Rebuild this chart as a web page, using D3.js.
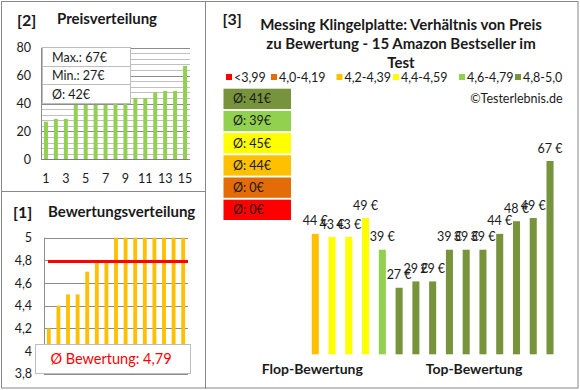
<!DOCTYPE html>
<html><head><meta charset="utf-8">
<script src="https://cdn.jsdelivr.net/npm/d3@7"></script>
<style>
html,body{margin:0;padding:0;background:#fff;}
svg{display:block;font-family:Lato,"Open Sans",sans-serif;}
</style></head>
<body>
<svg id="c" width="580" height="390"></svg>
<script>
// ---- data ----
const priceRanks = [1,2,3,4,5,6,7,8,9,10,11,12,13,14,15];
const pricesSorted = [27,29,29,39,39,39,39,43,43,44,44,48,49,49,67];
const priceTicks = [0,20,40,60,80];
const priceXLabels = [1,3,5,7,9,11,13,15];
const priceStats = ["Max.: 67€","Min.: 27€","Ø: 42€"];

const ratingsSorted = [4.2,4.4,4.5,4.5,4.7,4.8,4.8,5,5,5,5,5,5,5,5];
const ratingTicks = [3.8,4.0,4.2,4.4,4.6,4.8,5.0];
const ratingMean = 4.79;

const productPrices = [44,43,43,49,39,27,29,29,39,39,39,44,48,49,67];
const productClass = [2,3,3,3,4,5,5,5,5,5,5,5,5,5,5];
const classLabels = ["<3,99","4,0-4,19","4,2-4,39","4,4-4,59","4,6-4,79","4,8-5,0"];
const classColors = ["#FF0000","#E36C09","#FFC000","#FFFF00","#92D050","#77933C"];
const classAvg = [0,0,44,45,39,41];
const groupLabels = ["Flop-Bewertung","Top-Bewertung"];

const svg = d3.select("#c");
const txt = "#1a1a1a";

// ---- frames ----
svg.append("rect").attr("x",1.5).attr("y",1.5).attr("width",204).attr("height",190).attr("fill","none").attr("stroke","#888");
svg.append("rect").attr("x",1.5).attr("y",191.5).attr("width",204).attr("height",196.5).attr("fill","none").attr("stroke","#888");
svg.append("rect").attr("x",205.5).attr("y",1.5).attr("width",372.5).attr("height",386.5).attr("fill","none").attr("stroke","#888");

// ---- panel [2] price distribution ----
{
  const g = svg.append("g");
  g.append("text").attr("x",17).attr("y",26).attr("font-size",16).attr("font-weight","bold").attr("fill",txt).text("[2]");
  g.append("text").attr("x",57).attr("y",24).attr("font-size",15).attr("font-weight","bold").attr("fill",txt).text("Preisverteilung");
  const x = d3.scaleBand().domain(priceRanks).range([41,190]).paddingInner(0.6).paddingOuter(0.3);
  const y = d3.scaleLinear().domain([0,80]).range([159.3,47.7]);
  const minor = d3.range(0,81,4);
  g.selectAll(".mg").data(minor).join("line").attr("x1",41).attr("x2",190)
    .attr("y1",d=>Math.round(y(d))+0.5).attr("y2",d=>Math.round(y(d))+0.5)
    .attr("stroke",d=>d%20===0?"#8c8c8c":"#c0c0c0").attr("stroke-width",1);
  g.append("line").attr("x1",41.5).attr("x2",41.5).attr("y1",y(80)).attr("y2",y(0)).attr("stroke","#8c8c8c");
  g.selectAll(".b").data(pricesSorted).join("rect")
    .attr("x",(d,i)=>x(priceRanks[i])).attr("width",x.bandwidth())
    .attr("y",d=>y(d)).attr("height",d=>y(0)-y(d)).attr("fill","#92D050");
  g.append("line").attr("x1",41).attr("x2",190).attr("y1",Math.round(y(0))+0.5).attr("y2",Math.round(y(0))+0.5).attr("stroke","#7f7f7f");
  const ya = g.append("g").attr("transform","translate(41,0)").call(d3.axisLeft(y).tickValues(priceTicks).tickSize(0).tickPadding(10));
  ya.select(".domain").remove();
  ya.selectAll("text").attr("font-size",12.5).attr("fill",txt).attr("font-family","Lato,sans-serif");
  const xa = g.append("g").attr("transform","translate(0,174)").call(d3.axisBottom(x).tickValues(priceXLabels).tickSize(0).tickPadding(0));
  xa.select(".domain").remove();
  xa.selectAll("text").attr("font-size",12.5).attr("fill",txt).attr("font-family","Lato,sans-serif");
  // stats box
  const bx=42.5, by=47.5, bw=88, rows=[47.5,66.5,84.5,103.5];
  g.append("rect").attr("x",bx).attr("y",by).attr("width",bw).attr("height",rows[3]-by).attr("fill","#fff").attr("stroke","#bdbdbd");
  g.selectAll(".sl").data(rows.slice(1,3)).join("line").attr("x1",bx).attr("x2",bx+bw).attr("y1",d=>d).attr("y2",d=>d).attr("stroke","#bdbdbd");
  g.selectAll(".st").data(priceStats).join("text").attr("x",52)
    .attr("y",(d,i)=>(rows[i]+rows[i+1])/2+4.5).attr("font-size",12.5).attr("fill",txt).text(d=>d);
}

// ---- panel [1] rating distribution ----
{
  const g = svg.append("g");
  g.append("text").attr("x",13).attr("y",218).attr("font-size",16).attr("font-weight","bold").attr("fill",txt).text("[1]");
  g.append("text").attr("x",48).attr("y",217).attr("font-size",15).attr("font-weight","bold").attr("fill",txt).text("Bewertungsverteilung");
  const x = d3.scaleBand().domain(priceRanks).range([44,188]).paddingInner(0.6).paddingOuter(0.3);
  const y = d3.scaleLinear().domain([3.8,5]).range([373.7,237.7]);
  g.selectAll(".gl").data(ratingTicks).join("line").attr("x1",44).attr("x2",188)
    .attr("y1",d=>Math.round(y(d))+0.5).attr("y2",d=>Math.round(y(d))+0.5).attr("stroke","#8c8c8c");
  g.append("line").attr("x1",44.5).attr("x2",44.5).attr("y1",y(5)).attr("y2",y(3.8)).attr("stroke","#8c8c8c");
  g.selectAll(".b").data(ratingsSorted).join("rect")
    .attr("x",(d,i)=>x(priceRanks[i])).attr("width",x.bandwidth())
    .attr("y",d=>y(d)).attr("height",d=>y(3.8)-y(d)).attr("fill","#FFC000");
  g.append("line").attr("x1",48).attr("x2",188).attr("y1",y(ratingMean)).attr("y2",y(ratingMean)).attr("stroke","#FF0000").attr("stroke-width",3);
  const ya = g.append("g").attr("transform","translate(44,0)").call(d3.axisLeft(y).tickValues(ratingTicks).tickSize(0).tickPadding(12)
      .tickFormat(d=>d3.format(".1f")(d).replace(".",",").replace(/,0$/,"")));
  ya.select(".domain").remove();
  ya.selectAll("text").attr("font-size",12.5).attr("fill",txt).attr("font-family","Lato,sans-serif");
  g.append("rect").attr("x",35.5).attr("y",344.5).attr("width",155).attr("height",29).attr("fill","#fff").attr("stroke","#bdbdbd");
  g.append("text").attr("x",111).attr("y",364).attr("text-anchor","middle").attr("font-size",14.5).attr("fill","#FF0000")
    .text("Ø Bewertung: " + String(ratingMean).replace(".",","));
}

// ---- panel [3] price vs rating ----
{
  const g = svg.append("g");
  g.append("text").attr("x",222.5).attr("y",25).attr("font-size",16).attr("font-weight","bold").attr("fill",txt).text("[3]");
  const tl = ["Messing Klingelplatte: Verhältnis von Preis","zu Bewertung - 15 Amazon Bestseller im","Test"];
  g.selectAll(".t").data(tl).join("text").attr("x",401).attr("y",(d,i)=>29.5+i*19)
    .attr("text-anchor","middle").attr("font-size",15).attr("font-weight","bold").attr("fill",txt).text(d=>d);
  const lx = [226,271,336.5,393,459,515];
  const lg = g.selectAll(".lg").data(classLabels).join("g").attr("transform",(d,i)=>`translate(${lx[i]},0)`);
  lg.append("rect").attr("x",0).attr("y",74).attr("width",6).attr("height",6).attr("fill",(d,i)=>classColors[i]);
  lg.append("text").attr("x",8).attr("y",81.5).attr("font-size",12.5).attr("fill",txt).text(d=>d);
  g.append("text").attr("x",562.5).attr("y",102.5).attr("text-anchor","end").attr("font-size",12.5).attr("fill",txt).text("©Testerlebnis.de");
  // average boxes (dark green first)
  const order = [5,4,3,2,1,0];
  const bb = g.selectAll(".ab").data(order).join("g").attr("transform",(d,i)=>`translate(223.5,${88.7+i*22.2})`);
  bb.append("rect").attr("width",67.5).attr("height",20.3).attr("fill",d=>classColors[d]);
  bb.append("text").attr("x",9.5).attr("y",14.5).attr("font-size",12.5).attr("fill",txt).text(d=>`Ø: ${classAvg[d]}€`);
  // bars
  const idx = d3.range(productPrices.length);
  const x = d3.scaleBand().domain(idx).range([306.9,558.4]).paddingInner(0.58).paddingOuter(0.29);
  const y = d3.scaleLinear().domain([6,67]).range([354.3,161]);
  g.selectAll(".pb").data(productPrices).join("rect")
    .attr("x",(d,i)=>x(i)).attr("width",x.bandwidth()).attr("y",d=>y(d)).attr("height",d=>y(6)-y(d))
    .attr("fill",(d,i)=>classColors[productClass[i]]);
  g.selectAll(".pl").data(productPrices).join("text")
    .attr("x",(d,i)=>x(i)+x.bandwidth()/2).attr("y",d=>y(d)-8.5).attr("text-anchor","middle")
    .attr("font-size",12.5).attr("fill",txt).text(d=>d+" €");
  const gx = [312.3,474];
  g.selectAll(".gl").data(groupLabels).join("text").attr("x",(d,i)=>gx[i]).attr("y",373.5)
    .attr("text-anchor","middle").attr("font-size",14).attr("font-weight","bold").attr("fill",txt).text(d=>d);
}
</script>
</body></html>
